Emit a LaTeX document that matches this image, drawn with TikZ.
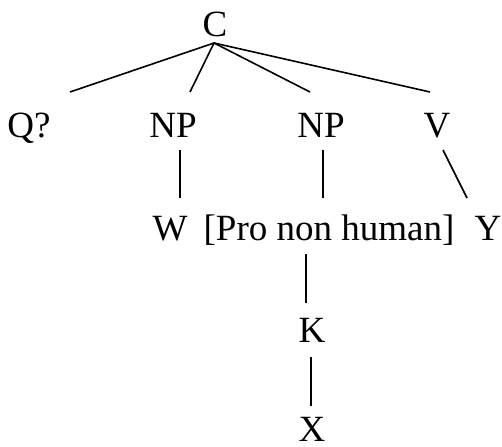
\documentclass[tikz,border=0pt]{standalone}
\usepackage{fontspec}
\setmainfont{Liberation Serif}
\begin{document}
\begin{tikzpicture}[x=1pt,y=-1pt,
  lbl/.style={anchor=base,inner sep=0pt,font=\fontsize{37}{44}\selectfont},
  edge/.style={line width=1.6pt}]
\useasboundingbox (0,0) rectangle (502,446);
% labels
\node[lbl] (C)   at (215,37)  {C};
\node[lbl] (Q)   at (29,138)  {Q?};
\node[lbl] (NPa) at (173,138) {NP};
\node[lbl] (NPb) at (321,138) {NP};
\node[lbl] (V)   at (437,138) {V};
\node[lbl] (W)   at (170,240) {W};
\node[lbl] (Pro) at (329,240) {[Pro non human]};
\node[lbl] (Y)   at (488,240) {Y};
\node[lbl] (K)   at (312,342) {K};
\node[lbl] (X)   at (312,441) {X};
% branch end points
\coordinate (Ct)  at (214,43);
\coordinate (qe)  at (70,92);
\coordinate (npa) at (190,92);
\coordinate (npb) at (310,92);
\coordinate (ve)  at (430,92);
\coordinate (a1) at (180,150); \coordinate (a2) at (180,198);
\coordinate (b1) at (323,150); \coordinate (b2) at (323,198);
\coordinate (v1) at (443,150); \coordinate (v2) at (467,198);
\coordinate (p1) at (306,254); \coordinate (p2) at (306,303);
\coordinate (k1) at (311,357); \coordinate (k2) at (311,406);
% branches
\draw[edge] (Ct) -- (qe);
\draw[edge] (Ct) -- (npa);
\draw[edge] (Ct) -- (npb);
\draw[edge] (Ct) -- (ve);
\draw[edge] (a1) -- (a2);
\draw[edge] (b1) -- (b2);
\draw[edge] (v1) -- (v2);
\draw[edge] (p1) -- (p2);
\draw[edge] (k1) -- (k2);
\end{tikzpicture}
\end{document}
